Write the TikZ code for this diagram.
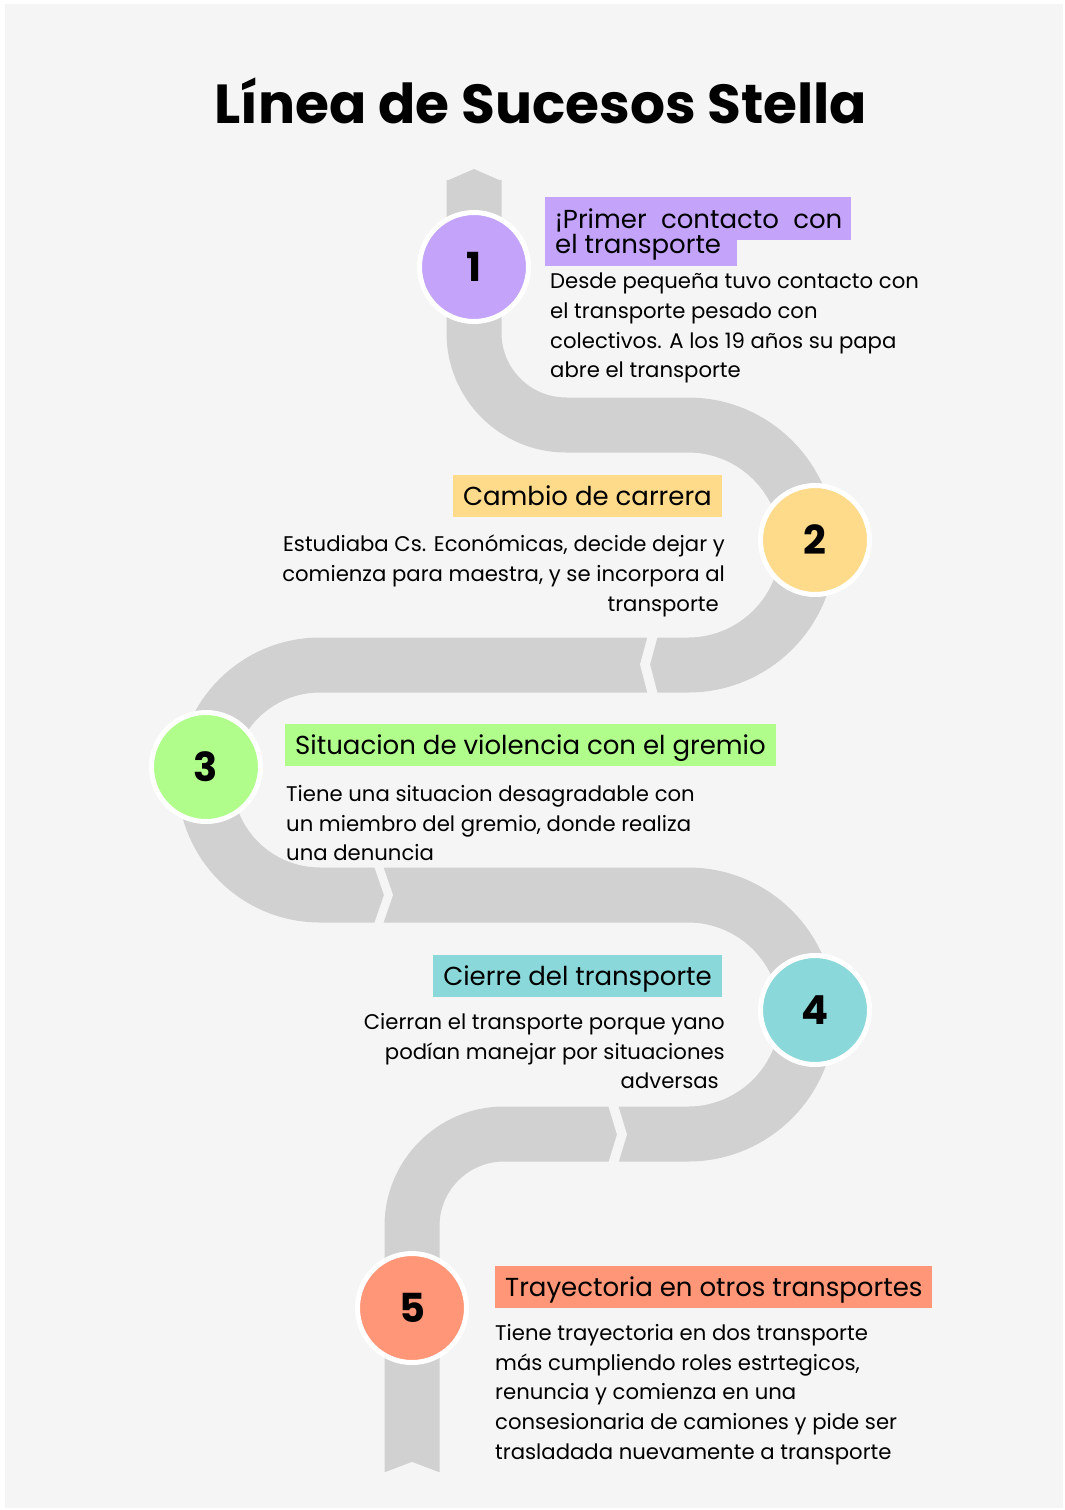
\documentclass[tikz,border=0pt]{standalone}
\usepackage{fontspec}
\setmainfont{Poppins}
\definecolor{bggray}{HTML}{F5F5F5}
\definecolor{roadgray}{HTML}{D1D1D1}
\definecolor{stopone}{HTML}{C4A3FA}
\definecolor{stoptwo}{HTML}{FEDB8B}
\definecolor{stopthree}{HTML}{B0FD8C}
\definecolor{stopfour}{HTML}{8AD8DA}
\definecolor{stopfive}{HTML}{FE9677}
\tikzset{
	road/.style={line width=55pt, draw=roadgray},
	stopmark/.style={circle, minimum size=109pt, inner sep=0pt, draw=white, line width=5pt, font=\fontsize{40}{40}\selectfont\bfseries},
	headbox/.style={inner xsep=10pt, inner ysep=0pt, minimum height=42pt, text height=20pt, text depth=2pt, font=\fontsize{26}{26}\selectfont},
	bodytext/.style={inner sep=0pt, font=\fontsize{21.2}{29.7}\selectfont}
}

\begin{document}
\begin{tikzpicture}[x=1pt, y=1pt]
			%%%%% START %%%%%
			\useasboundingbox (0, 0) rectangle (1065, -1510);
			\fill[bggray] (5, -4) rectangle (1063, -1508);
			
			\node[font=\fontsize{55}{55}\selectfont\bfseries] (title) at (541, -101) {Línea de Sucesos Stella};
			
			\draw[road] (474, -180) -- (474, -333) arc[start angle=180, end angle=270, radius=92]
				-- (688, -425) arc[start angle=90, end angle=-90, radius=120]
				-- (320, -665) arc[start angle=90, end angle=270, radius=115]
				-- (688, -895) arc[start angle=90, end angle=-90, radius=119.5]
				-- (504, -1134) arc[start angle=90, end angle=180, radius=92]
				-- (412, -1472);
			\fill[roadgray] (446.5, -181) -- (474, -169) -- (501.5, -181) -- cycle;
			\fill[bggray] (383, -1473) -- (412, -1462) -- (441, -1473) -- cycle;
			
			\fill[bggray] (648, -635) -- (658, -635) -- (650, -664.5) -- (658, -695) -- (648, -695) -- (640, -664.5) -- cycle;
			\fill[bggray] (374, -866) -- (383, -866) -- (393, -895) -- (383, -924) -- (374, -924) -- (384, -895) -- cycle;
			\fill[bggray] (608, -1105) -- (618, -1105) -- (627, -1134.5) -- (618, -1164) -- (608, -1164) -- (617, -1134.5) -- cycle;
			
			\node[stopmark, fill=stopone] (s1) at (474, -267) {1};
			\node[stopmark, fill=stoptwo] (s2) at (815, -540) {2};
			\node[stopmark, fill=stopthree] (s3) at (206, -767) {3};
			\node[stopmark, fill=stopfour] (s4) at (815, -1010) {4};
			\node[stopmark, fill=stopfive] (s5) at (412, -1308) {5};
			
			\fill[stopone] (545, -197) rectangle (851, -240);
			\fill[stopone] (545, -239) rectangle (737, -266);
			\node[anchor=base west, inner sep=0pt, font=\fontsize{26}{26}\selectfont] (h1a) at (555, -228) {¡Primer\hspace{0.55em}contacto\hspace{0.55em}con};
			\node[anchor=base west, inner sep=0pt, font=\fontsize{26}{26}\selectfont] (h1b) at (555, -253) {el transporte};
			\node[bodytext, anchor=north west, align=left] (b1) at (550, -273) {Desde pequeña tuvo contacto con\\el transporte pesado con\\colectivos. A los 19 años su papa\\abre el transporte};
			
			\node[headbox, fill=stoptwo, anchor=east] (h2) at (722, -496) {Cambio de carrera};
			\node[bodytext, anchor=north east, align=right] (b2) at (725, -535) {Estudiaba Cs. Económicas, decide dejar y\\comienza para maestra, y se incorpora al\\transporte\kern6pt};
			
			\node[headbox, fill=stopthree, anchor=west] (h3) at (285, -745) {Situacion de violencia con el gremio};
			\node[bodytext, anchor=north west, align=left] (b3) at (286, -785) {Tiene una situacion desagradable con\\un miembro del gremio, donde realiza\\una denuncia};
			
			\node[headbox, fill=stopfour, anchor=east] (h4) at (722, -976) {Cierre del transporte};
			\node[bodytext, anchor=north east, align=right] (b4) at (725, -1013) {Cierran el transporte porque yano\\podían manejar por situaciones\\adversas\kern6pt};
			
			\node[headbox, fill=stopfive, anchor=west] (h5) at (495, -1287) {Trayectoria en otros transportes};
			\node[bodytext, anchor=north west, align=left] (b5) at (495, -1324) {Tiene trayectoria en dos transporte\\más cumpliendo roles estrtegicos,\\renuncia y comienza en una\\consesionaria de camiones y pide ser\\trasladada nuevamente a transporte};
			%%%%% END %%%%%
		\end{tikzpicture}
\end{document}
